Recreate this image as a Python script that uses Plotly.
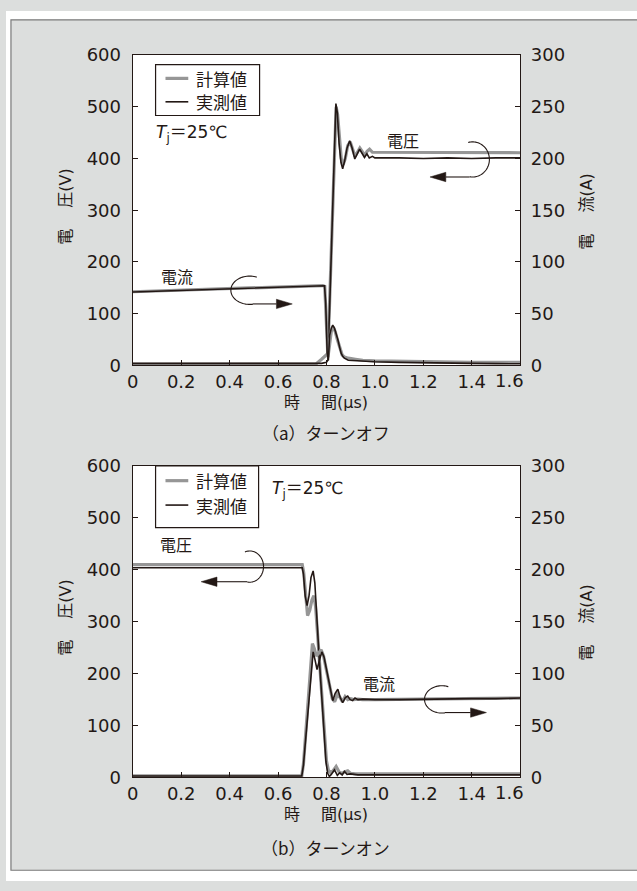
import math
import plotly.graph_objects as go

# ---------------- data ----------------
t_ticks = [0, 0.2, 0.4, 0.6, 0.8, 1.0, 1.2, 1.4, 1.6]
t_ticklabels = ["0", "0.2", "0.4", "0.6", "0.8", "1.0", "1.2", "1.4", "1.6"]
v_ticks = [0, 100, 200, 300, 400, 500, 600]
i_ticks = [0, 50, 100, 150, 200, 250, 300]

# (a) turn-off : voltage [V]
off_v_meas_t = [0, 0.1, 0.2, 0.3, 0.4, 0.5, 0.6, 0.7, 0.78, 0.80, 0.806, 0.815, 0.825, 0.833, 0.839,
                0.845, 0.852, 0.860, 0.867, 0.875, 0.885, 0.896, 0.906, 0.917, 0.927, 0.937, 0.947,
                0.957, 0.967, 0.977, 0.99, 1.0, 1.1, 1.2, 1.3, 1.4, 1.5, 1.6]
off_v_meas = [4, 4, 3, 4, 3, 4, 4, 3, 4, 6, 10, 140, 290, 430, 506,
              488, 430, 392, 380, 395, 420, 434, 420, 399, 408, 418, 410,
              402, 409, 401, 404, 401, 401, 400, 401, 400, 401, 401]
off_v_calc_t = [0, 0.2, 0.4, 0.6, 0.757, 0.78, 0.806, 0.815, 0.825, 0.834, 0.840, 0.846, 0.853,
                0.861, 0.869, 0.878, 0.888, 0.898, 0.908, 0.918, 0.928, 0.938, 0.948, 0.958,
                0.968, 0.978, 0.99, 1.0, 1.1, 1.2, 1.3, 1.4, 1.5, 1.6]
off_v_calc = [2, 2, 2, 2, 3, 12, 23, 150, 300, 440, 500, 485, 440,
              400, 388, 400, 425, 432, 418, 404, 412, 420, 413, 406,
              414, 418, 412, 412, 411, 411, 411, 411, 411, 411]
# (a) turn-off : current [A]
off_i_meas_t = [0, 0.1, 0.2, 0.3, 0.4, 0.5, 0.6, 0.7, 0.785, 0.792, 0.797, 0.803, 0.808, 0.813,
                0.82, 0.826, 0.833, 0.84, 0.847, 0.854, 0.861, 0.868, 0.874, 0.89, 0.92, 0.95,
                1.0, 1.1, 1.2, 1.3, 1.4, 1.5, 1.6]
off_i_meas = [71.0, 71.8, 72.6, 73.4, 74.2, 75.0, 75.8, 76.6, 77.4, 77.0, 60, 12, 5, 29,
              36, 39, 36, 31, 25, 18, 11.6, 8.5, 7, 5, 4.5, 4,
              3.5, 3, 2.5, 2, 2, 1.8, 1.6]
off_i_calc_t = [0, 0.2, 0.4, 0.6, 0.785, 0.793, 0.80, 0.806, 0.812, 0.82, 0.828, 0.836, 0.845,
                0.855, 0.865, 0.875, 0.89, 0.92, 0.95, 1.0, 1.2, 1.4, 1.6]
off_i_calc = [71.2, 72.8, 74.4, 76.0, 77.2, 76.5, 45, 8, 18, 33, 37, 33, 25,
              16, 10, 8, 7, 6, 5, 4.5, 3.5, 3, 3]

# (b) turn-on : voltage [V]
on_v_meas_t = [0, 0.1, 0.2, 0.3, 0.4, 0.5, 0.6, 0.70, 0.705, 0.712, 0.72, 0.728, 0.736, 0.745,
               0.752, 0.76, 0.77, 0.78, 0.79, 0.798, 0.805, 0.812, 0.82, 0.833, 0.845, 0.855,
               0.865, 0.874, 0.885, 0.9, 0.93, 1.0, 1.1, 1.2, 1.3, 1.4, 1.5, 1.6]
on_v_meas = [404, 404, 405, 404, 404, 405, 404, 404, 392, 350, 331, 350, 385, 398,
             375, 300, 230, 160, 90, 30, 8, 2, 6, 15, 4, 9,
             5, 12, 6, 7, 5, 5, 5, 4, 5, 4, 5, 5]
on_v_calc_t = [0, 0.2, 0.4, 0.6, 0.70, 0.706, 0.714, 0.722, 0.731, 0.740, 0.748, 0.755, 0.762,
               0.772, 0.782, 0.792, 0.80, 0.808, 0.816, 0.826, 0.84, 0.853, 0.865, 0.877,
               0.888, 0.90, 0.92, 1.0, 1.2, 1.4, 1.6]
on_v_calc = [410, 410, 410, 410, 410, 395, 345, 312, 322, 342, 350, 330, 285,
             215, 145, 75, 32, 14, 10, 12, 21, 10, 8, 11,
             13, 8, 7, 7, 7, 7, 7]
# (b) turn-on : current [A]
on_i_meas_t = [0, 0.1, 0.2, 0.3, 0.4, 0.5, 0.6, 0.698, 0.705, 0.715, 0.725, 0.735, 0.745, 0.753,
               0.761, 0.771, 0.781, 0.79, 0.80, 0.81, 0.82, 0.826, 0.836, 0.847, 0.857, 0.867,
               0.878, 0.888, 0.898, 0.908, 0.918, 0.93, 0.95, 1.0, 1.1, 1.2, 1.3, 1.4, 1.5, 1.6]
on_i_meas = [1.5, 1.5, 1.8, 1.5, 1.8, 1.5, 1.8, 1.5, 12, 39, 66, 94, 121, 113,
             104, 113, 121, 116, 104, 90, 78, 74, 81, 85, 77, 72,
             77, 78.5, 75, 74, 76.5, 75, 75.5, 75, 75, 75.5, 75.5, 76, 76, 76.5]
on_i_calc_t = [0, 0.2, 0.4, 0.6, 0.698, 0.705, 0.715, 0.725, 0.735, 0.742, 0.750, 0.758, 0.768,
               0.778, 0.788, 0.80, 0.812, 0.824, 0.834, 0.845, 0.856, 0.866, 0.877, 0.888,
               0.90, 0.912, 0.93, 0.95, 1.0, 1.2, 1.4, 1.6]
on_i_calc = [1.5, 1.5, 1.5, 1.5, 1.5, 13, 42, 72, 105, 129, 124, 117, 120,
             123, 117, 104, 88, 76, 73, 80, 77, 73, 78, 75,
             76, 75, 75.5, 75, 75, 75.5, 76, 76.5]

legend_labels = ["計算値", "実測値"]

# ---------------- styling ----------------
W, H = 637, 891
INK = "#231815"
GREY = "#969696"
PANEL = "#dcdedd"
NUM_FONT = "DejaVu Sans"
JP_FONT = "Noto Sans CJK JP"
MIX_FONT = "DejaVu Sans, Noto Sans CJK JP"
TICK_SIZE = 18


def px(x):
    return x / W


def py(y):
    return 1 - y / H


XL, XR = 128, 519
TOP = (45, 363)
BOT = (466, 785)

fig = go.Figure()


def add_panel(xa, ya_v, ya_i, vc_t, vc, vm_t, vm, ic_t, ic, im_t, im):
    fig.add_trace(go.Scatter(x=vc_t, y=vc, xaxis=xa, yaxis=ya_v, mode="lines",
                             line=dict(color=GREY, width=3.2), showlegend=False))
    fig.add_trace(go.Scatter(x=ic_t, y=ic, xaxis=xa, yaxis=ya_i, mode="lines",
                             line=dict(color=GREY, width=3.2), showlegend=False))
    fig.add_trace(go.Scatter(x=vm_t, y=vm, xaxis=xa, yaxis=ya_v, mode="lines",
                             line=dict(color=INK, width=1.6), showlegend=False))
    fig.add_trace(go.Scatter(x=im_t, y=im, xaxis=xa, yaxis=ya_i, mode="lines",
                             line=dict(color=INK, width=1.6), showlegend=False))


add_panel("x", "y", "y2", off_v_calc_t, off_v_calc, off_v_meas_t, off_v_meas,
          off_i_calc_t, off_i_calc, off_i_meas_t, off_i_meas)
add_panel("x2", "y3", "y4", on_v_calc_t, on_v_calc, on_v_meas_t, on_v_meas,
          on_i_calc_t, on_i_calc, on_i_meas_t, on_i_meas)

tickfont = dict(family=NUM_FONT, size=TICK_SIZE, color=INK)
common = dict(showline=True, linecolor=INK, linewidth=1.3, ticks="inside", ticklen=5,
              tickwidth=1.2, tickcolor=INK, showgrid=False, zeroline=False, tickfont=tickfont,
              fixedrange=True)


def xax(anchor, dom):
    # the last label ("1.6") sits on the right axis line and is set a bit to the left
    return dict(common, domain=[px(XL), px(XR)], range=[0, 1.6], anchor=anchor,
                tickvals=t_ticks[:-1], ticktext=t_ticklabels[:-1], mirror=True)


def yax_v(anchor, dom):
    return dict(common, domain=[py(dom[1]), py(dom[0])], range=[0, 600], anchor=anchor,
                tickvals=v_ticks, ticktext=[str(v) for v in v_ticks], ticklabelstandoff=7)


def yax_i(anchor, over):
    return dict(common, range=[0, 300], anchor=anchor, overlaying=over, side="right",
                tickvals=i_ticks, ticktext=[str(v) for v in i_ticks], ticklabelstandoff=6)


fig.update_layout(
    width=W, height=H, autosize=False,
    margin=dict(l=0, r=0, t=0, b=0),
    paper_bgcolor=PANEL, plot_bgcolor="white",
    xaxis=xax("y", TOP), yaxis=yax_v("x", TOP), yaxis2=yax_i("x", "y"),
    xaxis2=xax("y3", BOT), yaxis3=yax_v("x2", BOT), yaxis4=yax_i("x2", "y3"),
    showlegend=False,
)

shapes = []
# white page margins and panel border
shapes.append(dict(type="rect", xref="paper", yref="paper", x0=0, x1=1, y0=py(9), y1=1,
                   fillcolor="white", line=dict(width=0), layer="above"))
shapes.append(dict(type="rect", xref="paper", yref="paper", x0=0, x1=px(5), y0=0, y1=1,
                   fillcolor="white", line=dict(width=0), layer="above"))
shapes.append(dict(type="rect", xref="paper", yref="paper", x0=0, x1=1, y0=0, y1=py(880),
                   fillcolor="white", line=dict(width=0), layer="above"))
shapes.append(dict(type="rect", xref="paper", yref="paper", x0=px(5), x1=px(640),
                   y0=py(880), y1=py(9), line=dict(color="#7a7a7a", width=1.2), layer="above"))

annotations = []


def txt(x, y, s, size=17, family=JP_FONT, anchor="center", angle=0, yanchor="middle"):
    annotations.append(dict(xref="paper", yref="paper", x=px(x), y=py(y), text=s,
                            showarrow=False, xanchor=anchor, yanchor=yanchor,
                            textangle=angle, borderpad=0,
                            font=dict(family=family, size=size, color=INK)))


def legend_box(x0, y0, x1, y1, ya, yb):
    shapes.append(dict(type="rect", xref="paper", yref="paper", x0=px(x0), x1=px(x1),
                       y0=py(y1), y1=py(y0), fillcolor="white",
                       line=dict(color=INK, width=1.2), layer="above"))
    shapes.append(dict(type="line", xref="paper", yref="paper", x0=px(x0 + 10), x1=px(x0 + 33),
                       y0=py(ya), y1=py(ya), line=dict(color=GREY, width=3.2), layer="above"))
    shapes.append(dict(type="line", xref="paper", yref="paper", x0=px(x0 + 10), x1=px(x0 + 33),
                       y0=py(yb), y1=py(yb), line=dict(color=INK, width=1.6), layer="above"))
    txt(x0 + 40, ya, legend_labels[0], anchor="left")
    txt(x0 + 40, yb, legend_labels[1], anchor="left")


def arc(cx, cy, rx, ry, a0, a1, n=48):
    pts = []
    for k in range(n + 1):
        a = math.radians(a0 + (a1 - a0) * k / n)
        pts.append(f"{px(cx + rx * math.cos(a)):.5f},{py(cy + ry * math.sin(a)):.5f}")
    shapes.append(dict(type="path", xref="paper", yref="paper", path="M " + " L ".join(pts),
                       line=dict(color=INK, width=1.1), layer="above"))


def arrow(x_start, x_tip, y):
    d = 1 if x_tip > x_start else -1
    base = x_tip - d * 16
    shapes.append(dict(type="line", xref="paper", yref="paper", x0=px(x_start), x1=px(base),
                       y0=py(y), y1=py(y), line=dict(color=INK, width=1.1), layer="above"))
    path = (f"M {px(x_tip):.5f},{py(y):.5f} L {px(base):.5f},{py(y - 4.8):.5f} "
            f"L {px(base):.5f},{py(y + 4.8):.5f} Z")
    shapes.append(dict(type="path", xref="paper", yref="paper", path=path,
                       fillcolor=INK, line=dict(color=INK, width=0.5), layer="above"))


for off, (ptop, pbot) in ((0, TOP), (421, BOT)):
    # axis titles
    txt(60, 200 + off, "電　 圧(V)", size=16, family=MIX_FONT, angle=-90)
    txt(586, 205 + off, "電　 流(A)", size=16, family=MIX_FONT, angle=-90)
    txt(323, pbot + 38, "時　 間(µs)", size=16, family=MIX_FONT)
    # shifted last time label
    txt(508, pbot + 4, t_ticklabels[-1], size=TICK_SIZE, family=NUM_FONT, yanchor="top")

txt(323, 432, "（a）ターンオフ", size=17)
txt(323, 857, "（b）ターンオン", size=17)

# panel (a) decorations
legend_box(151, 55, 256, 107, 69, 93)
txt(150, 125, "<i>T</i><sub>j</sub>＝25℃", size=17, family=MIX_FONT, anchor="left")
txt(401, 132, "電圧", size=16)
arc(471, 152, 17, 18, -105, 100)
arrow(468, 428, 170)
txt(173, 271, "電流", size=16)
arc(246, 286, 19, 14.5, -68, -280)
arrow(249, 289, 300)

# panel (b) decorations
legend_box(151, 466, 255, 529, 481, 506)
txt(268, 490, "<i>T</i><sub>j</sub>＝25℃", size=17, family=MIX_FONT, anchor="left")
txt(172, 546, "電圧", size=16)
arc(246, 569, 14, 16, -110, 100)
arrow(243.5, 197, 584.5)
txt(377, 688, "電流", size=16)
arc(440, 705, 17.5, 14, -68, -280)
arrow(443, 485, 718.5)

fig.update_layout(shapes=shapes, annotations=annotations)
fig.write_html("out.html", config={"displayModeBar": False},
               post_script="document.body.style.margin='0';document.body.style.overflow='hidden';")
